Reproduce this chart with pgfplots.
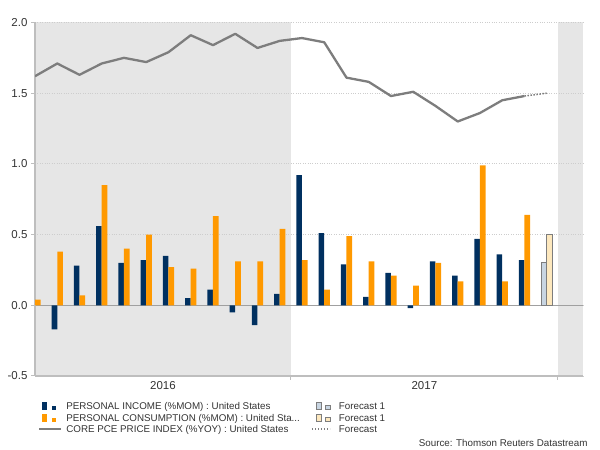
\documentclass[border=0pt]{standalone}
\usepackage{fontspec}
\setmainfont{Liberation Sans}
\usepackage{pgfplots}
\pgfplotsset{compat=1.18}

\definecolor{navy}{RGB}{0,48,96}
\definecolor{orangebar}{RGB}{255,153,0}
\definecolor{linegray}{RGB}{125,125,125}
\definecolor{bggray}{RGB}{230,230,230}
\definecolor{gridgray}{RGB}{205,205,205}
\definecolor{axisgray}{RGB}{190,190,190}
\definecolor{zerogray}{RGB}{160,160,160}
\definecolor{textgray}{RGB}{51,51,51}
\definecolor{fcblue}{RGB}{200,213,226}
\definecolor{fctan}{RGB}{253,232,190}

\newcommand{\tickfont}{\fontsize{11.5bp}{13bp}\selectfont}
\newcommand{\legfont}{\fontsize{9.8bp}{11bp}\selectfont}

\begin{document}
\begin{tikzpicture}
\path (0,0) rectangle (600bp,450bp);
\begin{axis}[
    set layers,
    at={(35bp,74bp)}, anchor=south west,
    scale only axis,
    width=548bp, height=353.5bp,
    xmin=0, xmax=24.63,
    ymin=-0.5, ymax=2,
    axis lines=left,
    axis line style={-, draw=axisgray, line width=1.5bp},
    tick align=outside,
    major tick length=4bp,
    tick style={draw=axisgray, line width=1bp},
    xtick={11.5,23.5},
    xticklabels={,},
    extra x ticks={5.75,17.5},
    extra x tick labels={2016,2017},
    extra x tick style={major tick length=0pt},
    xticklabel style={font=\tickfont, text=textgray, yshift=-2bp},
    ytick={-0.5,0,0.5,1,1.5,2},
    yticklabel style={font=\tickfont, text=textgray,
        /pgf/number format/.cd, fixed, fixed zerofill, precision=1,
        assume math mode=true},
    ymajorgrids,
    major grid style={draw=gridgray, dotted, line width=0.8bp},
    extra y ticks={0},
    extra y tick labels={},
    extra y tick style={major tick length=0pt, grid=major,
        major grid style={solid, draw=zerogray, line width=1.5bp}},
    legend columns=2,
    legend cell align=left,
    legend style={at={(0.0055,-0.0735)}, anchor=north west,
        draw=none, fill=none, inner sep=0pt, outer sep=0pt,
        font=\legfont, text=textgray, row sep=2bp,
        nodes={inner sep=0pt, text height=7bp, text depth=2bp},
        /tikz/column 1/.style={column sep=4bp},
        /tikz/column 3/.style={column sep=5bp}},
]

% shaded periods
\addplot[forget plot, on layer=axis background, fill=bggray, draw=none]
    coordinates {(0,-0.5) (0,2) (11.5,2) (11.5,-0.5)} -- cycle;
\addplot[forget plot, on layer=axis background, fill=bggray, draw=none]
    coordinates {(23.5,-0.5) (23.5,2) (24.63,2) (24.63,-0.5)} -- cycle;

% personal income (%mom)
\addplot[ybar, bar width=0.25, bar shift=-0.125, fill=navy, draw=none,
    legend image code/.code={
        \path[draw=none, fill=none] (0,0) -- (22bp,0);
        \fill[navy] (3bp,-2.5bp) rectangle (8bp,5bp);
        \fill[navy] (13bp,-2.5bp) rectangle (17bp,1.5bp);}]
coordinates {
    (1,-0.17) (2,0.28) (3,0.56) (4,0.30) (5,0.32) (6,0.35)
    (7,0.05) (8,0.11) (9,-0.05) (10,-0.14) (11,0.08)
    (12,0.92) (13,0.51) (14,0.29) (15,0.06) (16,0.23) (17,-0.02)
    (18,0.31) (19,0.21) (20,0.47) (21,0.36) (22,0.32)
};
\addlegendentry{\makebox[245bp][l]{PERSONAL INCOME (\%MOM) : United States}}

% forecast income
\addplot[ybar, bar width=0.25, bar shift=-0.125, fill=fcblue, draw=linegray, line width=0.8bp,
    legend image code/.code={
        \path[draw=none, fill=none] (0,0) -- (22bp,0);
        \filldraw[fill=fcblue, draw=linegray, line width=0.6bp] (4bp,-2.5bp) rectangle (9bp,5bp);
        \filldraw[fill=fcblue, draw=linegray, line width=0.6bp] (13bp,-2.5bp) rectangle (18bp,1.5bp);}]
coordinates {(23,0.30)};
\addlegendentry{Forecast 1}

% personal consumption (%mom)
\addplot[ybar, bar width=0.25, bar shift=0.125, fill=orangebar, draw=none,
    legend image code/.code={
        \path[draw=none, fill=none] (0,0) -- (22bp,0);
        \fill[orangebar] (3bp,-2.5bp) rectangle (8bp,5bp);
        \fill[orangebar] (13bp,-2.5bp) rectangle (17bp,1.5bp);}]
coordinates {
    (0,0.04) (1,0.38) (2,0.07) (3,0.85) (4,0.40) (5,0.50)
    (6,0.27) (7,0.26) (8,0.63) (9,0.31) (10,0.31) (11,0.54)
    (12,0.32) (13,0.11) (14,0.49) (15,0.31) (16,0.21) (17,0.14)
    (18,0.30) (19,0.17) (20,0.99) (21,0.17) (22,0.64)
};
\addlegendentry{\makebox[245bp][l]{PERSONAL CONSUMPTION (\%MOM) : United Sta...}}

% forecast consumption
\addplot[ybar, bar width=0.25, bar shift=0.125, fill=fctan, draw=linegray, line width=0.8bp,
    legend image code/.code={
        \path[draw=none, fill=none] (0,0) -- (22bp,0);
        \filldraw[fill=fctan, draw=linegray, line width=0.6bp] (4bp,-2.5bp) rectangle (9bp,5bp);
        \filldraw[fill=fctan, draw=linegray, line width=0.6bp] (13bp,-2.5bp) rectangle (18bp,1.5bp);}]
coordinates {(23,0.50)};
\addlegendentry{Forecast 1}

% core pce price index (%yoy)
\addplot[linegray, line width=2.3bp, line join=round,
    legend image code/.code={
        \draw[linegray, line width=2.3bp] (0,1bp) -- (22bp,1bp);}]
coordinates {
    (0,1.62) (1,1.71) (2,1.63) (3,1.71) (4,1.75) (5,1.72)
    (6,1.79) (7,1.91) (8,1.84) (9,1.92) (10,1.82) (11,1.87)
    (12,1.89) (13,1.86) (14,1.61) (15,1.58) (16,1.48) (17,1.51)
    (18,1.41) (19,1.30) (20,1.36) (21,1.45) (22,1.48)
};
\addlegendentry{CORE PCE PRICE INDEX (\%YOY) : United States}

% forecast line
\addplot[linegray, line width=1.5bp, dash pattern=on 1.5bp off 1.5bp,
    legend image code/.code={
        \path[draw=none, fill=none] (0,0) -- (22bp,0);
        \draw[linegray, line width=1.2bp, dash pattern=on 1.2bp off 1.8bp] (0,1bp) -- (18bp,1bp);}]
coordinates {(22,1.48) (23,1.50)};
\addlegendentry{Forecast}

\end{axis}
\node[anchor=base east, font=\legfont, text=textgray] at (591bp,3.5bp)
    {Source: Thomson Reuters Datastream};
\end{tikzpicture}
\end{document}
